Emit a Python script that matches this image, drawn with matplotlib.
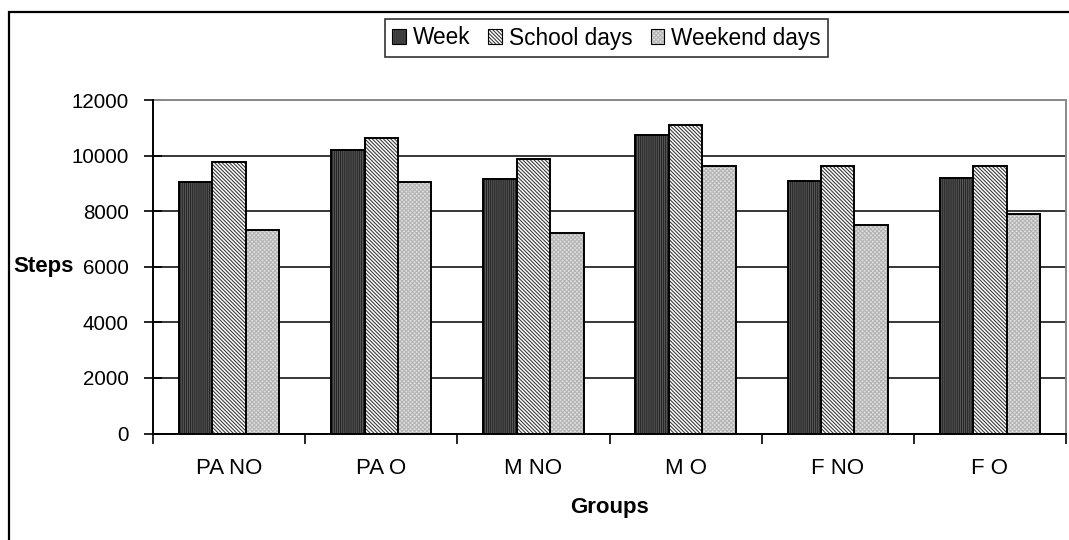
import matplotlib
matplotlib.use("Agg")
import matplotlib.pyplot as plt
from matplotlib.patches import Patch, Rectangle
import numpy as np

groups = ["PA NO", "PA O", "M NO", "M O", "F NO", "F O"]
series_names = ["Week", "School days", "Weekend days"]
week = [9060, 10210, 9140, 10730, 9070, 9190]
school_days = [9770, 10650, 9890, 11100, 9640, 9640]
weekend_days = [7330, 9050, 7200, 9640, 7520, 7910]
y_ticks = [0, 2000, 4000, 6000, 8000, 10000, 12000]

plt.rcParams['font.family'] = ['Liberation Sans', 'DejaVu Sans']
plt.rcParams['hatch.linewidth'] = 0.8

W, H = 1069, 540
fig = plt.figure(figsize=(W / 100, H / 100), dpi=100)
ax = fig.add_axes([153 / W, 1 - 433.5 / H, (1066 - 153) / W, (433.5 - 100) / H])

styles = [
    dict(face="#5a5a5a", hatch="|" * 8, hcol="#262626"),
    dict(face="#ffffff", hatch="\\" * 9, hcol="#3c3c3c"),
    dict(face="#e0e0e0", hatch="x" * 8, hcol="#b4b4b4"),
]
data = [week, school_days, weekend_days]
bw = 0.22
x = np.arange(len(groups)) + 0.5
handles = []
for i, (vals, st) in enumerate(zip(data, styles)):
    pos = x + (i - 1) * bw
    ax.bar(pos, vals, bw, color=st["face"], hatch=st["hatch"], edgecolor=st["hcol"],
           linewidth=0, zorder=3)
    ax.bar(pos, vals, bw, fill=False, edgecolor="black", linewidth=1.4, zorder=4)
    h1 = Patch(facecolor=st["face"], hatch=st["hatch"], edgecolor=st["hcol"], linewidth=0)
    h2 = Patch(fill=False, edgecolor="black", linewidth=0.8)
    handles.append((h1, h2))

ax.set_xlim(0, len(groups))
ax.set_ylim(0, 12000)
ax.set_yticks(y_ticks)
ax.set_yticklabels([str(v) for v in y_ticks], fontsize=14.8)
ax.yaxis.grid(True, color="black", linewidth=1.1, zorder=1)
ax.set_axisbelow(True)
ax.tick_params(axis="y", direction="inout", length=13, width=1.2, pad=11)

ax.set_xticks(np.arange(len(groups) + 1))
ax.set_xticklabels([])
ax.tick_params(axis="x", which="major", direction="out", length=7, width=1.2)
ax.set_xticks(x, minor=True)
ax.set_xticklabels(groups, minor=True, fontsize=16)
ax.tick_params(axis="x", which="minor", length=0, pad=18)

for s in ["left", "bottom"]:
    ax.spines[s].set_color("black")
    ax.spines[s].set_linewidth(1.4)
    ax.spines[s].set_zorder(5)
for s in ["top", "right"]:
    ax.spines[s].set_color("#8a8a8a")
    ax.spines[s].set_linewidth(1.4)

fig.text(13 / W, 1 - (433.5 - 6000 / 12000 * 333.5) / H, "Steps", fontsize=16,
         fontweight="bold", ha="left", va="center")
fig.text(609.5 / W, 1 - 508 / H, "Groups", fontsize=16, fontweight="bold",
         ha="center", va="center")

leg = fig.legend(handles, series_names, loc="center", ncol=3,
                 bbox_to_anchor=(606.5 / W, 1 - 38 / H), fontsize=16.3,
                 frameon=True, fancybox=False, shadow=False,
                 handlelength=0.6, handleheight=0.6, handletextpad=0.3,
                 columnspacing=0.8, borderpad=0.35, borderaxespad=0)
leg.get_frame().set_edgecolor("black")
leg.get_frame().set_linewidth(1.2)

fig.patches.append(Rectangle((9 / W, -0.1), 1.2, 1 - 12 / H + 0.1, transform=fig.transFigure,
                             fill=False, edgecolor="black", linewidth=1.6, zorder=0))

fig.savefig("out.png", dpi=100)
